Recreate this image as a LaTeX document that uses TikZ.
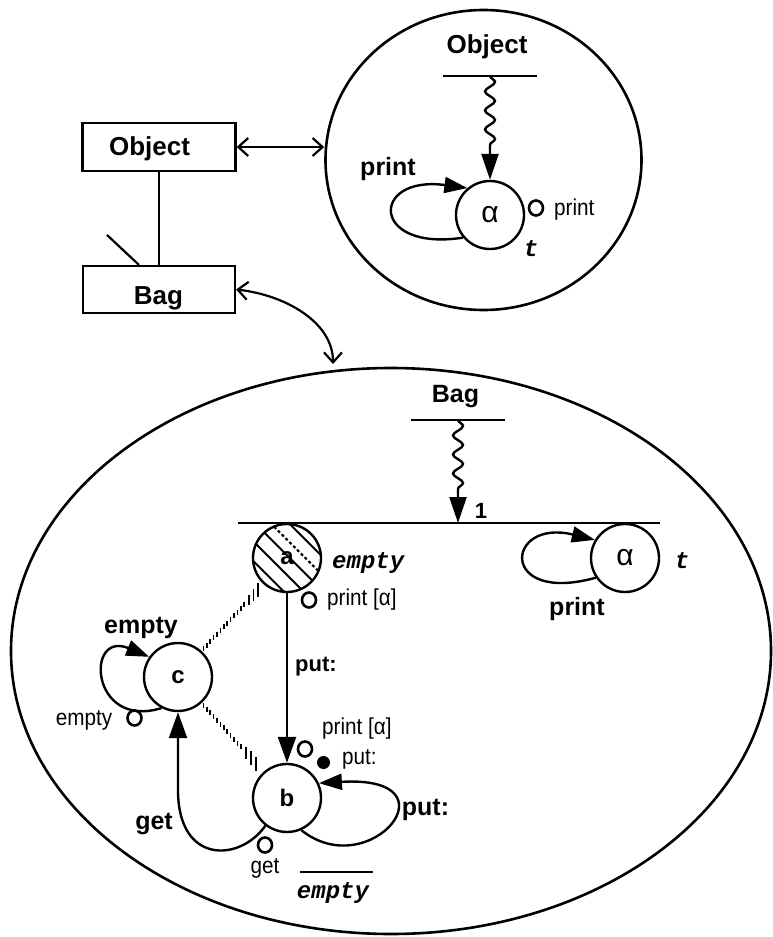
\documentclass[tikz,border=0pt]{standalone}
\usepackage{fontspec}
\setmainfont{Liberation Sans}
\newfontfamily\monof{Liberation Mono}
\newfontfamily\narrowf[FakeStretch=0.9]{Liberation Sans}
\usetikzlibrary{shapes.geometric,arrows.meta,decorations.pathmorphing,calc}
\begin{document}
\begin{tikzpicture}[x=0.5pt,y=-0.5pt,line width=1.2pt,
  lblbig/.style={font=\fontsize{12.5}{14}\selectfont\bfseries,inner sep=0pt},
  lblbox/.style={font=\fontsize{13}{15}\selectfont\bfseries,inner sep=0pt},
  lblmed/.style={font=\fontsize{11}{13}\selectfont\bfseries,inner sep=0pt},
  lblsm/.style={font=\narrowf\fontsize{11.5}{13}\selectfont,inner sep=0pt},
  lblmono/.style={font=\monof\bfseries\itshape\fontsize{12}{14}\selectfont,inner sep=0pt},
  st/.style={circle,draw,fill=white,minimum size=34pt,inner sep=0pt,font=\fontsize{12}{14}\selectfont\bfseries},
  alph/.style={st,font=\fontsize{15}{17}\selectfont\mdseries},
  ring/.style={ellipse,draw,line width=1.3pt,minimum width=7pt,minimum height=7.5pt,inner sep=0pt},
  fdot/.style={circle,fill,minimum size=6.5pt,inner sep=0pt},
  box/.style={rectangle,draw,line width=1.1pt,inner sep=0pt},
  view/.style={ellipse,draw,line width=1.3pt,inner sep=0pt},
  looparr/.style={-{Triangle[length=11.5pt,width=8pt]}},
  putarr/.style={-{Triangle[length=13pt,width=9pt]}},
  snakearr/.style={decorate,decoration={snake,amplitude=2.5pt,segment length=9.5pt,post length=13pt},-{Triangle[length=13pt,width=8.5pt]}},
  dblarr/.style={{Straight Barb[length=5pt,width=9pt]}-{Straight Barb[length=5pt,width=9pt]},line width=1.1pt}
]
\useasboundingbox (0,0) rectangle (772,937);

% views
\node[view,minimum width=158pt,minimum height=150pt] (objview) at (483.5,160) {};
\node[view,minimum width=380pt,minimum height=283pt] (bagview) at (391,651) {};

% class boxes
\node[box,minimum width=76.5pt,minimum height=24pt] (obj) at (159,147) {};
\node[lblbox,anchor=base] (objtxt) at (149.5,155) {Object};
\node[box,minimum width=76pt,minimum height=23.5pt] (bag) at (159,289.5) {};
\node[lblbox,anchor=base] (bagtxt) at (158.5,304) {Bag};
\draw[line width=1.1pt] (obj.south) -- (bag.north);
\coordinate (diagend) at (107,235);
\draw[line width=1.1pt] (diagend) -- ($(bag.north west)!0.74!(bag.north)$);
\draw[dblarr] (obj.east) -- (obj.east -| objview.west);
\coordinate (bagtip) at (333,364);
\draw[dblarr] (bag.east) .. controls (285,295) and (333,322) .. (bagtip);

% top view content
\node[lblbox,anchor=base] (objhead) at (487,54) {Object};
\coordinate (objbarL) at (443,76);
\coordinate (objbarR) at (537,76);
\coordinate (objbar) at (490,76);
\draw (objbarL) -- (objbarR);
\node[alph] (al1) at (490,215) {α};
\draw[snakearr] (objbar) -- (al1.north);
\draw[looparr] (al1.220) .. controls (370,252) and (370,175) .. (al1.130);
\node[lblbig,anchor=base] (pr1) at (388,175) {print};
\node[ring] (r1) at (536,208) {};
\node[lblsm,anchor=base west] (pr1s) at (553,215) {print};
\node[lblmono,anchor=base] (t1) at (531,256) {t};

% big view content
\node[lblbig,anchor=base] (baghead) at (455.5,402) {Bag};
\coordinate (bagbarL) at (411,420);
\coordinate (bagbarR) at (505,420);
\coordinate (bagbar) at (458,420);
\draw (bagbarL) -- (bagbarR);
\coordinate (barL) at (238,523);
\coordinate (barR) at (660,523);
\coordinate (bartip) at (458,523);
\draw[snakearr] (bagbar) -- (bartip);
\draw (barL) -- (barR);
\node[lblmed,anchor=base] (one) at (481,518) {1};

\node[st,path picture={
    \foreach \d in {-26,-12,2,26}
      \draw[line width=1pt] ($(path picture bounding box.center)+({0.707*(\d)-45},{-0.707*(\d)-45})$) -- ($(path picture bounding box.center)+({0.707*(\d)+45},{-0.707*(\d)+45})$);
    \draw[line width=1pt,dash pattern=on 1.5pt off 1.2pt] ($(path picture bounding box.center)+({0.707*13-45},{-0.707*13-45})$) -- ($(path picture bounding box.center)+({0.707*13+45},{-0.707*13+45})$);
  }] (a) at (287,558) {a};
\node[lblmono,anchor=base west] (emptya) at (331,568) {empty};
\node[ring] (r2) at (309,600) {};
\node[lblsm,anchor=base west] (pra) at (326,605) {print [α]};

\node[st] (b) at (287,798) {b};
\node[st] (c) at (178,677) {c};
\draw[putarr] (a) -- (b);
\node[lblmed,anchor=base west] (putlbl) at (294,671) {put:};

\node[alph] (al2) at (625,558) {α};
\draw[looparr] (al2.214) .. controls (498,605) and (505,518) .. (al2.149);
\node[lblmono,anchor=base] (t2) at (682,568) {t};
\node[lblbig,anchor=base] (pr2) at (577,615) {print};

% c loop
\draw[looparr] (c.242) .. controls (90,730) and (85,630) .. (c.145);
\node[lblbig,anchor=base] (emptyc) at (141,633) {empty};
\node[lblsm,anchor=base] (emptycs) at (84,725) {empty};
\node[ring] (r3) at (134.5,718) {};

% b loop
\draw[looparr] (b.294) .. controls (370,885) and (460,775) .. (b.25);
\node[lblbig,anchor=base] (putloop) at (425.5,815) {put:};
\node[fdot] (d1) at (323.5,762.5) {};
\node[lblsm,anchor=base west] (puts) at (341,764) {put:};
\node[lblsm,anchor=base west] (prb) at (321,734) {print [α]};
\node[ring] (r4) at (305,749) {};

% get arrow
\draw[putarr] (b.232) .. controls (240,862) and (178,865) .. (178,790) -- (c.south);
\node[lblbig,anchor=base] (getlbl) at (154,829) {get};
\node[ring] (r5) at (265,845) {};
\node[lblsm,anchor=base] (gets) at (265,873) {get};
\coordinate (gbarL) at (300,872);
\coordinate (gbarR) at (373,872);
\draw[line width=1pt] (gbarL) -- (gbarR);
\node[lblmono,anchor=base] (emptyb) at (333,898) {empty};

% hatched links
\foreach \k in {0.03,0.085,...,0.7}
  \draw[line width=0.8pt] ($(c.48)!\k!(a.228)$) ++(0,-2.5) -- ++(0,5);
\foreach \k/\h in {0.77/5,0.84/6,0.91/7}
  \draw[line width=0.9pt] ($(c.48)!\k!(a.228)$) ++(0,-\h) -- ++(0,2*\h);
\foreach \k in {0.03,0.085,...,0.66}
  \draw[line width=0.8pt] ($(c.312)!\k!(b.132)$) ++(0,-2.5) -- ++(0,5);
\foreach \k/\h in {0.72/6,0.8/7,0.88/7}
  \draw[line width=0.9pt] ($(c.312)!\k!(b.132)$) ++(0,-\h) -- ++(0,2*\h);
\end{tikzpicture}
\end{document}
